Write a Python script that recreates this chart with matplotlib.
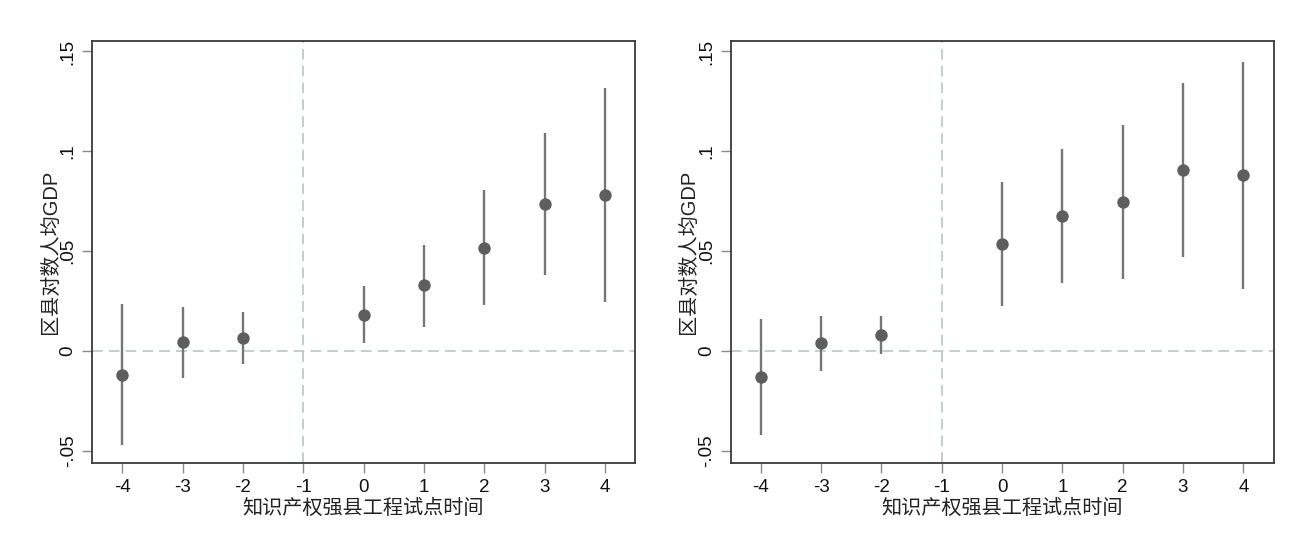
import matplotlib
matplotlib.use("Agg")
import matplotlib.pyplot as plt

# ---- data ----
periods = [-4, -3, -2, 0, 1, 2, 3, 4]
xticks = [-4, -3, -2, -1, 0, 1, 2, 3, 4]

left_coef = [-0.0118, 0.0045, 0.0067, 0.0183, 0.0330, 0.0518, 0.0735, 0.0782]
left_lo = [-0.0470, -0.0132, -0.0063, 0.0040, 0.0122, 0.0233, 0.0380, 0.0245]
left_hi = [0.0237, 0.0221, 0.0197, 0.0325, 0.0534, 0.0805, 0.1090, 0.1317]

right_coef = [-0.0127, 0.0041, 0.0083, 0.0538, 0.0677, 0.0745, 0.0905, 0.0880]
right_lo = [-0.0417, -0.0098, -0.0013, 0.0228, 0.0343, 0.0360, 0.0472, 0.0313]
right_hi = [0.0163, 0.0175, 0.0175, 0.0847, 0.1012, 0.1132, 0.1340, 0.1447]

yticks = [-0.05, 0, 0.05, 0.1, 0.15]
ytick_labels = ["-.05", "0", ".05", ".1", ".15"]

xlabel = "知识产权强县工程试点时间"
ylabel = "区县对数人均GDP"

plt.rcParams['font.family'] = ['Liberation Sans', 'Noto Sans CJK SC', 'DejaVu Sans']

fig = plt.figure(figsize=(13.06, 5.44), dpi=100)
W, H = 1306, 544
frame_l = [92, 730.5]
frame_w = 543
top, bottom = 40.5, 462.5

point_color = "#5e5e5e"
line_color = "#767676"
ref_color = "#b4c2be"
frame_color = "#3a3a3a"
tick_color = "#8a8a8a"

for i, (coef, lo, hi) in enumerate([(left_coef, left_lo, left_hi),
                                   (right_coef, right_lo, right_hi)]):
    ax = fig.add_axes([frame_l[i] / W, 1 - bottom / H, frame_w / W, (bottom - top) / H])
    ax.set_xlim(-4.5, 4.5)
    ax.set_ylim(-0.0557, 0.1555)

    ax.axhline(0, color=ref_color, lw=1.1, dashes=(7, 4), zorder=1)
    ax.axvline(-1, color=ref_color, lw=1.1, dashes=(7, 4), zorder=1)

    ax.vlines(periods, lo, hi, color=line_color, lw=1.7, zorder=2)
    ax.scatter(periods, coef, s=80, color=point_color, zorder=3, linewidths=0)

    ax.set_xticks(xticks)
    ax.set_xticklabels([str(t) for t in xticks], fontsize=13.5)
    ax.set_yticks(yticks)
    ax.set_yticklabels(ytick_labels, fontsize=13.5, rotation=90, va="center")

    ax.tick_params(axis="both", direction="out", length=7, width=1.0,
                   color=tick_color, labelcolor="#111111")
    ax.tick_params(axis="x", pad=5)
    ax.tick_params(axis="y", pad=4)

    for s in ax.spines.values():
        s.set_color(frame_color)
        s.set_linewidth(1.3)

    ax.set_xlabel(xlabel, fontsize=14.5, color="#222222", labelpad=2)
    ax.set_ylabel(ylabel, fontsize=14.5, color="#222222", labelpad=0)

fig.savefig("out.png", dpi=100, facecolor="white")
